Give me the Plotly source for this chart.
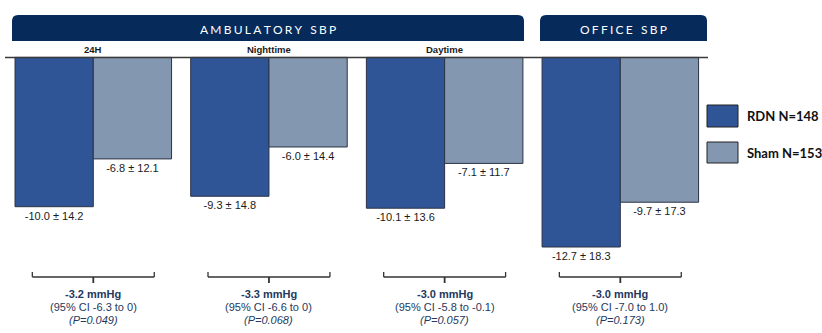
import plotly.graph_objects as go

# ---------------- data ----------------
categories = ["24H", "Nighttime", "Daytime", "Office"]
sub_labels = ["24H", "Nighttime", "Daytime", ""]
rdn_mean = [-10.0, -9.3, -10.1, -12.7]
rdn_sd = [14.2, 14.8, 13.6, 18.3]
sham_mean = [-6.8, -6.0, -7.1, -9.7]
sham_sd = [12.1, 14.4, 11.7, 17.3]
diff_mmhg = ["-3.2", "-3.3", "-3.0", "-3.0"]
ci_low = ["-6.3", "-6.6", "-5.8", "-7.0"]
ci_high = ["0", "0", "-0.1", "1.0"]
p_values = ["0.049", "0.068", "0.057", "0.173"]
series_names = ["RDN N=148", "Sham N=153"]
header_titles = ["AMBULATORY SBP", "OFFICE SBP"]

# ---------------- styling ----------------
W, H = 822, 333
RDN_COLOR = "#2F5597"
SHAM_COLOR = "#8497B0"
EDGE = "#2A3346"
NAVY = "#062A5A"
TXT_BLUE = "#24395E"
FONT = "Liberation Sans, Arial, sans-serif"


def px(x):
    return x / W


def py(y):
    return 1 - y / H


def spaced(s):
    gap = "\u2009\u200a"
    words = [gap.join(list(w)) for w in s.split(" ")]
    return ("\u2002" + gap).join(words)


fig = go.Figure()
fig.add_trace(go.Bar(
    x=categories, y=rdn_mean, name=series_names[0],
    text=[f"{m:.1f} ± {s:.1f}" for m, s in zip(rdn_mean, rdn_sd)],
    textposition="outside", cliponaxis=False,
    textfont=dict(size=11, color="#1a1a1a", family=FONT),
    marker=dict(color=RDN_COLOR, line=dict(color=EDGE, width=1)),
))
fig.add_trace(go.Bar(
    x=categories, y=sham_mean, name=series_names[1],
    text=[f"{m:.1f} ± {s:.1f}" for m, s in zip(sham_mean, sham_sd)],
    textposition="outside", cliponaxis=False,
    textfont=dict(size=11, color="#1a1a1a", family=FONT),
    marker=dict(color=SHAM_COLOR, line=dict(color=EDGE, width=1)),
))

shapes = []
annotations = []


def note(x, y, text, font, xref="paper", xanchor="center"):
    annotations.append(dict(x=x, y=y, xref=xref, yref="paper", text=text, showarrow=False,
                            xanchor=xanchor, yanchor="middle", font=font))


def rounded_top(x0, x1, y0, y1, r=6):
    rx, ry = r / W, r / H
    X0, X1, Y0, Y1 = px(x0), px(x1), py(y0), py(y1)  # y0 top, y1 bottom
    return (f"M {X0},{Y1} L {X0},{Y0 - ry} Q {X0},{Y0} {X0 + rx},{Y0} "
            f"L {X1 - rx},{Y0} Q {X1},{Y0} {X1},{Y0 - ry} L {X1},{Y1} Z")


# header bars
for (x0, x1), label in zip([(12, 524), (540, 707)], header_titles):
    shapes.append(dict(type="path", path=rounded_top(x0, x1, 15, 41), xref="paper", yref="paper",
                       fillcolor=NAVY, line=dict(width=0), layer="above"))
    note(px((x0 + x1) / 2), py(29.5), spaced(label),
         dict(size=12, color="white", family="Lato, Open Sans, sans-serif"))

# sub labels
for i, lab in enumerate(sub_labels):
    if lab:
        note(i, py(49.5), f"<b>{lab}</b>", dict(size=9.5, color="#1a1a1a", family=FONT), xref="x")

# baseline
shapes.append(dict(type="line", x0=px(5), x1=px(708), y0=py(57.6), y1=py(57.6), xref="paper", yref="paper",
                   line=dict(color="#3a3a3a", width=1.5), layer="above"))

# brackets and difference text
half = 0.347
for i in range(len(categories)):
    bl = dict(color="#333333", width=1.3)
    shapes.append(dict(type="line", x0=i - half, x1=i + half, y0=py(277), y1=py(277), xref="x", yref="paper", line=bl))
    shapes.append(dict(type="line", x0=i - half, x1=i - half, y0=py(272), y1=py(277), xref="x", yref="paper", line=bl))
    shapes.append(dict(type="line", x0=i + half, x1=i + half, y0=py(272), y1=py(277), xref="x", yref="paper", line=bl))
    shapes.append(dict(type="line", x0=i, x1=i, y0=py(277), y1=py(283), xref="x", yref="paper",
                       line=dict(color="#333333", width=1.8)))
    f = dict(size=11, color=TXT_BLUE, family=FONT)
    note(i, py(294), f"<b>{diff_mmhg[i]} mmHg</b>", f, xref="x")
    note(i, py(307), f"(95% CI {ci_low[i]} to {ci_high[i]})", f, xref="x")
    note(i, py(319.5), f"<i>(P={p_values[i]})</i>", f, xref="x")

# legend (drawn manually)
for (y0, y1, color, name) in [(105, 127, RDN_COLOR, series_names[0]), (142, 163, SHAM_COLOR, series_names[1])]:
    shapes.append(dict(type="rect", x0=px(707), x1=px(738), y0=py(y0), y1=py(y1), xref="paper", yref="paper",
                       fillcolor=color, line=dict(color="#222222", width=1)))
    note(px(745), py((y0 + y1) / 2), f"<b>{name}</b>",
         dict(size=13, color="#111111", family="Lato, sans-serif"), xanchor="left")

fig.update_layout(
    width=W, height=H, margin=dict(l=0, r=0, t=0, b=0),
    paper_bgcolor="white", plot_bgcolor="white",
    barmode="group", bargap=0.109, bargroupgap=0,
    showlegend=False,
    xaxis=dict(range=[-0.531, 4.148], visible=False, fixedrange=True),
    yaxis=dict(range=[-18.46, 3.845], visible=False, fixedrange=True),
    shapes=shapes, annotations=annotations,
    uniformtext=dict(mode=False),
)

fig.write_html("out.html")
